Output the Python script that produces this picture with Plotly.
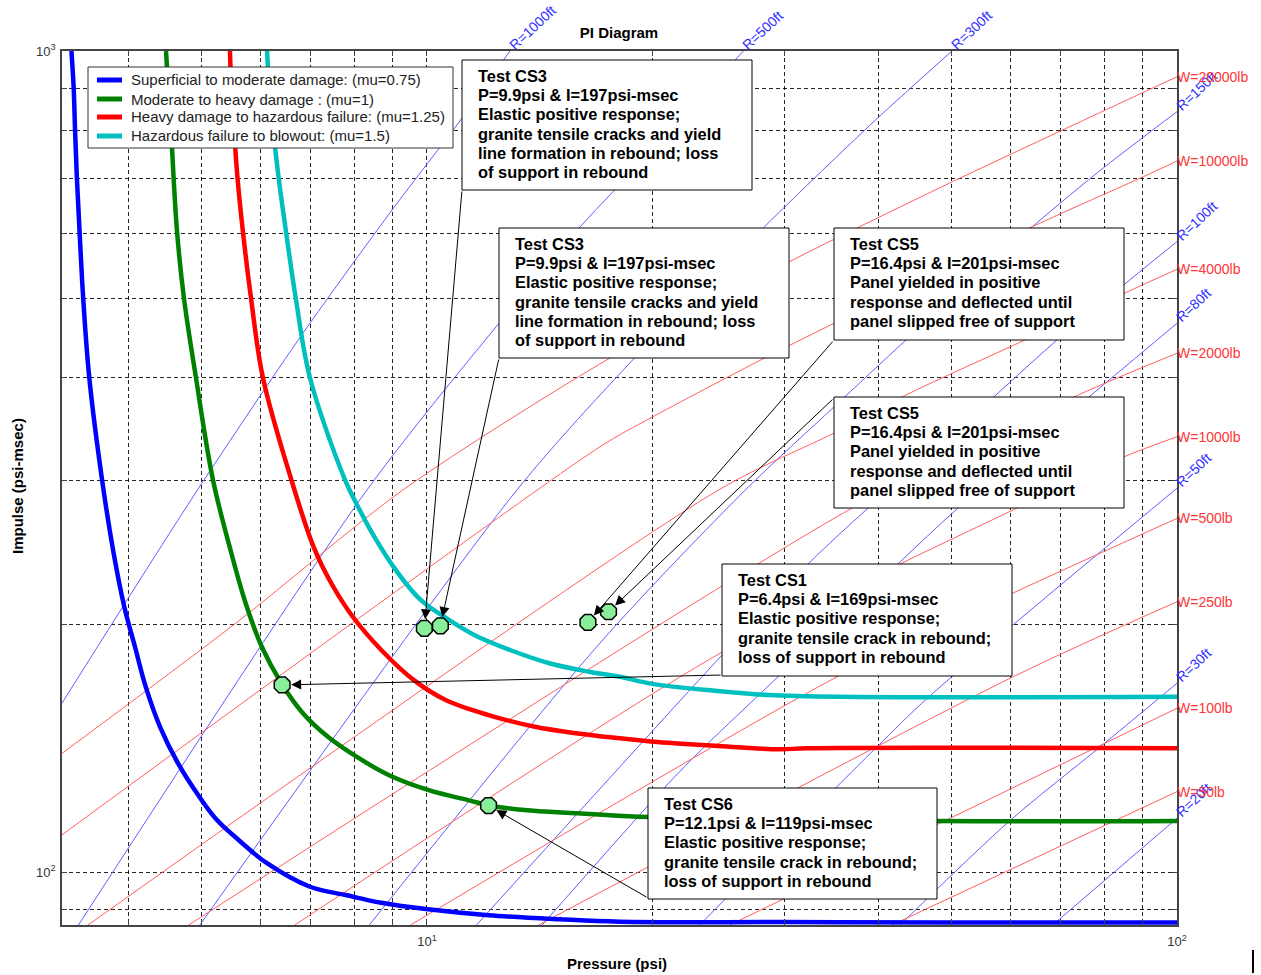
import math
import plotly.graph_objects as go

# ---------------- axis / tick data ----------------
P_RANGE = [3.261, 100.0]          # psi
I_RANGE = [86.2, 1000.0]          # psi-msec
X_TICK_VALS = [4, 5, 6, 7, 8, 9, 10, 20, 30, 40, 50, 60, 70, 80, 90, 100]
Y_TICK_VALS = [90, 100, 200, 300, 400, 500, 600, 700, 800, 900, 1000]
X_TICK_LABELS = {10: "10<sup>1</sup>", 100: "10<sup>2</sup>"}
Y_TICK_LABELS = {100: "10<sup>2</sup>", 1000: "10<sup>3</sup>"}

# ---------------- PI curves ----------------
CURVE_NAMES = ["Superficial to moderate damage: (mu=0.75)",
               "Moderate to heavy damage : (mu=1)",
               "Heavy damage to hazardous failure: (mu=1.25)",
               "Hazardous failure to blowout: (mu=1.5)"]
mu075_P = [3.357, 3.380, 3.394, 3.413, 3.442, 3.480, 3.546, 3.688, 3.821, 3.948, 4.080, 4.216,
           4.406, 4.655, 4.971, 5.248, 5.609, 6.118, 6.982, 7.791, 8.69, 10.03, 12.08, 15.04,
           18.08, 30.0, 50.0, 100.0]
mu075_I = [1000, 902, 803.5, 702, 601.6, 500.7, 400.0, 300.3, 244.6, 210.5, 188.1, 168.2,
           150.3, 135.7, 123.5, 115.7, 109.4, 102.5, 95.96, 93.75, 91.75, 90.08, 88.6, 87.6,
           87.0, 86.9, 86.8, 86.8]
mu100_P = [4.488, 4.517, 4.557, 4.593, 4.643, 4.741, 4.920, 5.184, 5.485, 5.731, 6.022,
           6.395, 6.832, 7.377, 8.054, 8.888, 10.03, 11.44, 12.08, 13.48, 15.89, 19.13, 47.84, 100.0]
mu100_I = [1000, 902, 803.5, 702, 601.6, 500.7, 400.0, 300.3, 244.5, 212.5, 188.1,
           169.8, 156.1, 146.1, 138.2, 131.3, 125.9, 122.1, 120.6, 119.0, 117.9, 116.8, 115.4, 115.4]
mu125_P = [5.461, 5.485, 5.529, 5.588, 5.684, 5.825, 6.043, 6.595, 7.060, 7.457, 7.963,
           8.69, 9.596, 10.59, 12.08, 13.93, 15.89, 18.08, 20.05, 24.19, 29.54, 32.08, 100.0]
mu125_I = [1000, 902, 803.5, 702, 601.6, 500.7, 400.0, 300.3, 248.9, 224.6, 204.6,
           186.4, 171.4, 162.0, 155.3, 150.3, 147.5, 145.5, 144.1, 142.5, 141.1, 141.5, 141.5]
mu150_P = [6.120, 6.161, 6.235, 6.340, 6.488, 6.682, 6.982, 7.775, 8.091, 8.505, 9.087, 9.808,
           10.71, 11.69, 12.90, 14.56, 16.43, 18.08, 20.05, 24.19, 28.52, 35.24, 100.0]
mu150_I = [1000, 902, 803.5, 702, 601.6, 500.7, 400.0, 300.3, 278.6, 256.1, 233.2, 214.5,
           202.7, 193.4, 186.4, 179.6, 175.4, 172.9, 169.4, 166.3, 164.3, 163.5, 163.5]

# ---------------- standoff (R) lines ----------------
R_LABELS = ["R=1000ft", "R=500ft", "R=300ft", "R=150ft", "R=100ft",
            "R=80ft", "R=50ft", "R=30ft", "R=20ft"]
R_P = [
    [3.261, 4.943, 6.832, 8.982, 11.13, 12.90],
    [3.430, 8.318, 12.47, 16.0, 17.70, 26.42],
    [4.979, 13.18, 18.90, 28.19, 39.63, 50.12],
    [8.378, 17.01, 26.58, 34.88, 43.52, 64.17, 80.17, 100.0],
    [11.64, 24.74, 32.21, 38.73, 57.02, 69.18, 100.0],
    [14.24, 20.76, 23.33, 27.54, 42.53, 51.05, 100.0],
    [23.09, 39.63, 46.70, 100.0],
    [42.72, 59.80, 78.58, 100.0],
    [68.27, 100.0],
]
R_I = [
    [160.6, 292.0, 453.1, 640.2, 827.9, 1000],
    [86.2, 292.0, 465.9, 610.5, 674.0, 1000],
    [86.2, 292.0, 422.5, 611.1, 824.0, 1000],
    [86.2, 190.1, 292.0, 368.5, 444.6, 611.1, 723.0, 843.5],
    [86.2, 183.8, 237.2, 277.5, 379.3, 444.6, 585.9],
    [86.2, 126.9, 141.5, 163.5, 237.7, 277.5, 465.9],
    [86.2, 141.5, 163.5, 293.4],
    [86.2, 115.4, 141.5, 169.8],
    [86.2, 116.3],
]

# ---------------- charge weight (W) lines ----------------
W_LABELS = ["W=20000lb", "W=10000lb", "W=4000lb", "W=2000lb", "W=1000lb",
            "W=500lb", "W=250lb", "W=100lb", "W=50lb"]
W_P = [
    [3.261, 5.609, 9.288, 17.54, 30.38, 37.78, 51.32, 100.0],
    [3.261, 17.01, 19.82, 27.86, 34.88, 64.17, 90.21, 100.0],
    [3.532, 24.48, 34.88, 43.52, 62.68, 85.05, 100.0],
    [4.812, 36.87, 73.87, 100.0],
    [6.662, 24.74, 42.99, 61.19, 85.05, 100.0],
    [9.509, 35.21, 60.45, 100.0],
    [14.09, 60.45, 100.0],
    [25.34, 100.0],
    [41.68, 100.0],
]
W_I = [
    [139.5, 202.2, 292.0, 422.8, 553.3, 611.1, 699.8, 930.4],
    [111.0, 329.6, 356.9, 420.4, 465.9, 611.1, 703.0, 734.5],
    [86.2, 292.0, 342.5, 381.1, 444.6, 506.9, 542.1],
    [86.2, 277.5, 381.1, 428.4],
    [86.2, 185.3, 237.9, 277.5, 320.5, 339.0],
    [86.2, 172.9, 218.7, 269.6],
    [86.2, 172.9, 213.4],
    [86.2, 158.3],
    [86.2, 125.3],
]

# ---------------- test points ----------------
TEST_NAMES = ["CS3", "CS3", "CS5", "CS5", "CS1", "CS6"]
TEST_P = [9.92, 10.42, 16.39, 17.46, 6.41, 12.08]
TEST_I = [198.1, 199.5, 201.4, 207.5, 169.0, 120.5]

# ---------------- callout texts ----------------
TXT_CS3 = ["Test CS3", "P=9.9psi & I=197psi-msec", "Elastic positive response;",
           "granite tensile cracks and yield", "line formation in rebound; loss",
           "of support in rebound"]
TXT_CS5 = ["Test CS5", "P=16.4psi & I=201psi-msec", "Panel yielded in positive",
           "response and deflected until", "panel slipped free of support"]
TXT_CS1 = ["Test CS1", "P=6.4psi & I=169psi-msec", "Elastic positive response;",
           "granite tensile crack in rebound;", "loss of support in rebound"]
TXT_CS6 = ["Test CS6", "P=12.1psi & I=119psi-msec", "Elastic positive response;",
           "granite tensile crack in rebound;", "loss of support in rebound"]

# ---------------- layout constants (pixels) ----------------
W_FIG, H_FIG = 1261, 975
PL, PR, PT, PB = 62, 1177, 51, 925
FONT = "Liberation Sans, Arial, sans-serif"
CURVE_COLS = ["#0000ff", "#008000", "#ff0000", "#00bfbf"]

XR = [math.log10(P_RANGE[0]), math.log10(P_RANGE[1])]
YR = [math.log10(I_RANGE[0]), math.log10(I_RANGE[1])]


def pxx(px):
    return (px - PL) / (PR - PL)


def pxy(py):
    return (PB - py) / (PB - PT)


def px_to_logx(px):
    return XR[0] + (px - PL) / (PR - PL) * (XR[1] - XR[0])


def px_to_logy(py):
    return YR[0] + (PB - py) / (PB - PT) * (YR[1] - YR[0])


fig = go.Figure()

# R and W lines
for lab, p, i in zip(R_LABELS, R_P, R_I):
    fig.add_trace(go.Scatter(x=p, y=i, mode="lines", showlegend=False, hoverinfo="skip", name=lab,
                             line=dict(color="rgb(95,95,255)", width=1, shape="spline", smoothing=0.8)))
for lab, p, i in zip(W_LABELS, W_P, W_I):
    fig.add_trace(go.Scatter(x=p, y=i, mode="lines", showlegend=False, hoverinfo="skip", name=lab,
                             line=dict(color="rgb(255,95,95)", width=1, shape="spline", smoothing=0.8)))

# PI curves
for name, p, i, c in zip(CURVE_NAMES, [mu075_P, mu100_P, mu125_P, mu150_P],
                         [mu075_I, mu100_I, mu125_I, mu150_I], CURVE_COLS):
    fig.add_trace(go.Scatter(x=p, y=i, mode="lines", name=name, showlegend=False,
                             line=dict(color=c, width=4.5, shape="spline", smoothing=1.0)))

# test points
fig.add_trace(go.Scatter(x=TEST_P, y=TEST_I, mode="markers", showlegend=False, text=TEST_NAMES,
                         marker=dict(symbol="octagon", size=17, color="#88ee99",
                                     line=dict(color="black", width=1.5))))

ann = []
shapes = []

# R labels (rotated, at the upper end of each line)
for lab, p, i in zip(R_LABELS, R_P, R_I):
    ann.append(dict(x=math.log10(p[-1]), y=math.log10(i[-1]), xref="x", yref="y", text=lab,
                    showarrow=False, textangle=-43, xanchor="left", yanchor="bottom",
                    xshift=-7, yshift=-5, font=dict(family=FONT, size=14, color="#3030ff")))
# W labels
for lab, p, i in zip(W_LABELS, W_P, W_I):
    ann.append(dict(x=math.log10(p[-1]), y=math.log10(i[-1]), xref="x", yref="y", text=lab,
                    showarrow=False, xanchor="left", yanchor="middle", xshift=-2,
                    font=dict(family=FONT, size=14, color="#ff3535")))

# legend (drawn by hand to match item spacing)
LEG_BOX = (88, 67, 453, 148)
LEG_ROWS = [80, 99, 117, 136]
shapes.append(dict(type="rect", xref="paper", yref="paper", x0=pxx(LEG_BOX[0]), x1=pxx(LEG_BOX[2]),
                   y0=pxy(LEG_BOX[3]), y1=pxy(LEG_BOX[1]), line=dict(color="#333", width=1),
                   fillcolor="white", layer="above"))
for name, c, row in zip(CURVE_NAMES, CURVE_COLS, LEG_ROWS):
    shapes.append(dict(type="line", xref="paper", yref="paper", x0=pxx(97), x1=pxx(122),
                       y0=pxy(row), y1=pxy(row), line=dict(color=c, width=5), layer="above"))
    ann.append(dict(x=pxx(129), y=pxy(row), xref="paper", yref="paper", text=name,
                    showarrow=False, xanchor="left", yanchor="middle",
                    font=dict(family=FONT, size=15, color="#222")))

# callout boxes: (left, top, right, bottom) px, text, first line centre
boxes = [
    ((462, 60, 752, 190), TXT_CS3, 76),
    ((499, 228, 789, 358), TXT_CS3, 244),
    ((834, 228, 1124, 340), TXT_CS5, 244),
    ((834, 397, 1124, 508), TXT_CS5, 413),
    ((722, 564, 1012, 676), TXT_CS1, 580),
    ((648, 788, 937, 899), TXT_CS6, 804),
]
LINE_GAP = 19.2
for (l, t, r, b), lines, y0 in boxes:
    shapes.append(dict(type="rect", xref="paper", yref="paper", x0=pxx(l), x1=pxx(r),
                       y0=pxy(b), y1=pxy(t), line=dict(color="black", width=1),
                       fillcolor="white", layer="above"))
    for k, s in enumerate(lines):
        ann.append(dict(x=pxx(l + 14), y=pxy(y0 + k * LINE_GAP), xref="paper", yref="paper",
                        text="<b>" + s + "</b>", showarrow=False, xanchor="left", yanchor="middle",
                        font=dict(family=FONT, size=16.4, color="black")))

# arrows: (test point index, tail px)
arrows = [(0, (462, 190)), (1, (499, 358)), (2, (834, 340)), (3, (834, 398)),
          (4, (722, 675)), (5, (648, 898))]
for idx, (tx, ty) in arrows:
    ann.append(dict(x=math.log10(TEST_P[idx]), y=math.log10(TEST_I[idx]), xref="x", yref="y",
                    ax=px_to_logx(tx), ay=px_to_logy(ty), axref="x", ayref="y", text="",
                    showarrow=True, arrowhead=2, arrowsize=2, arrowwidth=1,
                    arrowcolor="black", standoff=9))

# axis titles
ann.append(dict(x=pxx(617), y=pxy(963), xref="paper", yref="paper", text="<b>Pressure (psi)</b>",
                showarrow=False, xanchor="center", yanchor="middle",
                font=dict(family=FONT, size=15, color="black")))
ann.append(dict(x=pxx(17), y=pxy(486), xref="paper", yref="paper", text="<b>Impulse (psi-msec)</b>",
                showarrow=False, textangle=-90, xanchor="center", yanchor="middle",
                font=dict(family=FONT, size=15, color="black")))

# stray vertical mark at bottom right
shapes.append(dict(type="line", xref="paper", yref="paper", x0=pxx(1253), x1=pxx(1253),
                   y0=pxy(950), y1=pxy(973), line=dict(color="black", width=2)))

axis_common = dict(type="log", showline=True, mirror="ticks", linecolor="#444", linewidth=1.5,
                   ticks="inside", ticklen=5, tickcolor="#444", tickwidth=1,
                   showgrid=True, gridcolor="rgba(0,0,0,0.85)", gridwidth=1, griddash="4px,3px",
                   zeroline=False, tickfont=dict(family=FONT, size=13, color="#333"))

fig.update_layout(
    width=W_FIG, height=H_FIG, autosize=False, showlegend=False,
    margin=dict(l=PL, r=W_FIG - PR, t=PT, b=H_FIG - PB, pad=0),
    paper_bgcolor="white", plot_bgcolor="white",
    title=dict(text="<b>PI Diagram</b>", x=pxx(619), xref="paper", y=1 - 33 / H_FIG,
               yref="container", xanchor="center", yanchor="middle",
               font=dict(family=FONT, size=15, color="black")),
    xaxis=dict(range=XR, tickvals=X_TICK_VALS,
               ticktext=[X_TICK_LABELS.get(v, "") for v in X_TICK_VALS], ticklabelstandoff=4,
               **axis_common),
    yaxis=dict(range=YR, tickvals=Y_TICK_VALS,
               ticktext=[Y_TICK_LABELS.get(v, "") for v in Y_TICK_VALS], ticklabelstandoff=2,
               **axis_common),
    annotations=ann, shapes=shapes,
)

fig.write_html("out.html")
